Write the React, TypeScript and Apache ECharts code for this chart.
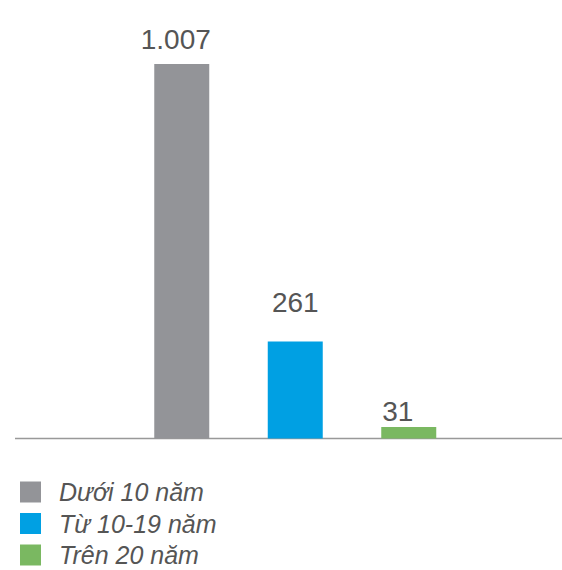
import React, { useEffect, useRef } from "react";
import * as echarts from "echarts";

const categories = ["Dưới 10 năm", "Từ 10-19 năm", "Trên 20 năm"];
const values = [1007, 261, 31];
const labels = ["1.007", "261", "31"];
const colors = ["#939498", "#00A0E3", "#7AB861"];
const labelDistance = [11, 25, 1];
const labelOffsetX = [-6, 0, -11];

export default function App() {
  const ref = useRef<HTMLDivElement>(null);
  useEffect(() => {
    const chart = echarts.init(ref.current!, undefined, { renderer: "svg" });
    const series = categories.map((name, i) => ({
      name,
      type: "bar",
      barWidth: 55,
      barGap: "-100%",
      itemStyle: { color: colors[i] },
      label: {
        show: true,
        position: "top",
        distance: labelDistance[i],
        offset: [labelOffsetX[i], 0],
        formatter: () => labels[i],
        fontFamily: "Liberation Sans, Arial, sans-serif",
        fontSize: 28,
        color: "#555555",
      },
      data: categories.map((_, j) => (j === i ? values[i] : "-")),
    }));
    chart.setOption({
      animation: false,
      grid: { left: 125, right: 96.5, top: 64, bottom: 131.5 },
      xAxis: {
        type: "category",
        data: categories,
        axisLine: { show: false },
        axisTick: { show: false },
        axisLabel: { show: false },
      },
      yAxis: {
        type: "value",
        min: 0,
        max: 1007,
        show: false,
        splitLine: { show: false },
      },
      legend: {
        orient: "vertical",
        left: 20,
        top: 479.5,
        padding: 0,
        height: 200,
        icon: "rect",
        itemWidth: 21,
        itemHeight: 21,
        itemGap: 6.5,
        data: categories,
        textStyle: {
          fontFamily: "Liberation Sans, Arial, sans-serif",
          fontStyle: "italic",
          fontSize: 25,
          color: "#555555",
          padding: [0, 0, 0, 13],
        },
      },
      graphic: [
        {
          type: "line",
          shape: { x1: 15, y1: 438.5, x2: 562, y2: 438.5 },
          style: { stroke: "#999999", lineWidth: 1.5 },
        },
      ],
      series,
    });
    return () => chart.dispose();
  }, []);
  return (
    <div
      ref={ref}
      style={{ position: "fixed", left: 0, top: 0, width: 562, height: 570, background: "#fff" }}
    />
  );
}
